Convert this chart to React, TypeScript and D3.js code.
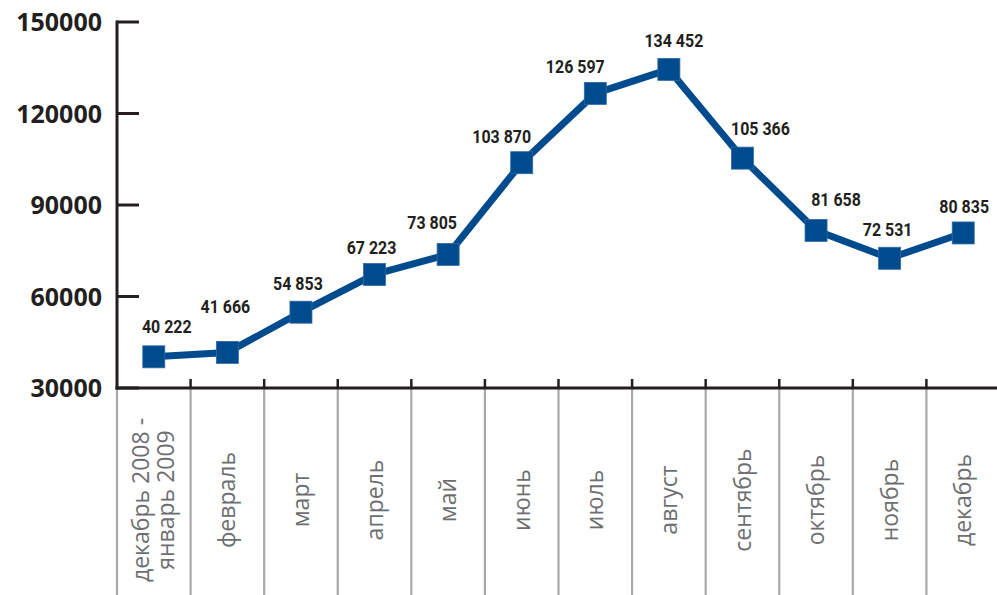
import React from "react";
import * as d3 from "d3";

const categories: string[][] = [
  ["декабрь 2008 -", "январь 2009"],
  ["февраль"],
  ["март"],
  ["апрель"],
  ["май"],
  ["июнь"],
  ["июль"],
  ["август"],
  ["сентябрь"],
  ["октябрь"],
  ["ноябрь"],
  ["декабрь"],
];
const values: number[] = [40222, 41666, 54853, 67223, 73805, 103870, 126597, 134452, 105366, 81658, 72531, 80835];
const valueLabels: string[] = ["40 222", "41 666", "54 853", "67 223", "73 805", "103 870", "126 597", "134 452", "105 366", "81 658", "72 531", "80 835"];
// manual label offsets (label placement as in the original)
const labelDx: number[] = [13, -2, -3, -3, -16, -20, -20, 5, 18, 20, -2, 1];
const labelDy: number[] = [-24, -39, -22, -20, -25, -20, -20, -22, -23, -24, -22, -20];
const yTicks: number[] = [30000, 60000, 90000, 120000, 150000];

const W = 997;
const H = 595;
const left = 117;
const right = 1000;
const top = 22;
const bottom = 388;

export default function App() {
  const idx = categories.map((_, i) => String(i));
  const x = d3.scaleBand<string>().domain(idx).range([left, right]).padding(0);
  const y = d3.scaleLinear().domain([30000, 150000]).range([bottom, top]);
  const cx = (i: number) => (x(String(i)) as number) + x.bandwidth() / 2;
  const line = d3
    .line<number>()
    .x((_, i) => cx(i))
    .y((d) => y(d));
  const boundaries = d3.range(0, categories.length + 1).map((i) => left + i * x.bandwidth());
  const axisColor = "#231f20";
  const blue = "#004b8e";
  const markerSize = 22;

  return (
    <svg
      width={W}
      height={H}
      style={{ position: "absolute", left: 0, top: 0, background: "#fff" }}
    >
      {/* gray separators below axis */}
      {boundaries.map((bx, i) => (
        <line key={"g" + i} x1={bx} x2={bx} y1={bottom} y2={H} stroke="#a7a9ac" strokeWidth={2.2} />
      ))}
      {/* x-axis small ticks */}
      {boundaries.slice(1).map((bx, i) => (
        <line key={"xt" + i} x1={bx} x2={bx} y1={bottom - 9} y2={bottom} stroke={axisColor} strokeWidth={2.5} />
      ))}
      {/* y ticks */}
      {yTicks.map((t) => (
        <g key={"yt" + t}>
          <line x1={left} x2={left + 22} y1={y(t)} y2={y(t)} stroke={axisColor} strokeWidth={3} />
          <text
            x={102}
            y={y(t)}
            dy="0.36em"
            textAnchor="end"
            fontFamily="'Open Sans', sans-serif"
            fontWeight={700}
            fontSize={25}
            fill={axisColor}
          >
            {t}
          </text>
        </g>
      ))}
      {/* axes */}
      <line x1={left} x2={left} y1={top - 1.5} y2={bottom + 1.5} stroke={axisColor} strokeWidth={3} />
      <line x1={left - 1.5} x2={W} y1={bottom} y2={bottom} stroke={axisColor} strokeWidth={3} />

      {/* category labels */}
      {categories.map((lines, i) => {
        const c = cx(i);
        const lh = 25;
        return (
          <text
            key={"c" + i}
            transform={`translate(${c},500) rotate(-90)`}
            textAnchor="middle"
            fontFamily="'Open Sans', sans-serif"
            fontSize={23}
            fill="#6d6e71"
          >
            {lines.map((l, j) => (
              <tspan key={j} x={0} y={(j - (lines.length - 1) / 2) * lh} dy="0.35em">
                {l}
              </tspan>
            ))}
          </text>
        );
      })}

      {/* line */}
      <path d={line(values) || ""} fill="none" stroke={blue} strokeWidth={7} strokeLinejoin="round" />
      {values.map((v, i) => (
        <rect
          key={"m" + i}
          x={cx(i) - markerSize / 2}
          y={y(v) - markerSize / 2}
          width={markerSize}
          height={markerSize}
          fill={blue}
          stroke="#2f6aa6"
          strokeWidth={0.8}
        />
      ))}
      {/* value labels */}
      {values.map((v, i) => (
        <text
          key={"v" + i}
          transform={`translate(${cx(i) + labelDx[i]},${y(v) + labelDy[i]}) scale(0.84,1)`}
          textAnchor="middle"
          fontFamily="Roboto, sans-serif"
          fontWeight={700}
          fontSize={19}
          fill={axisColor}
        >
          {valueLabels[i]}
        </text>
      ))}
    </svg>
  );
}
